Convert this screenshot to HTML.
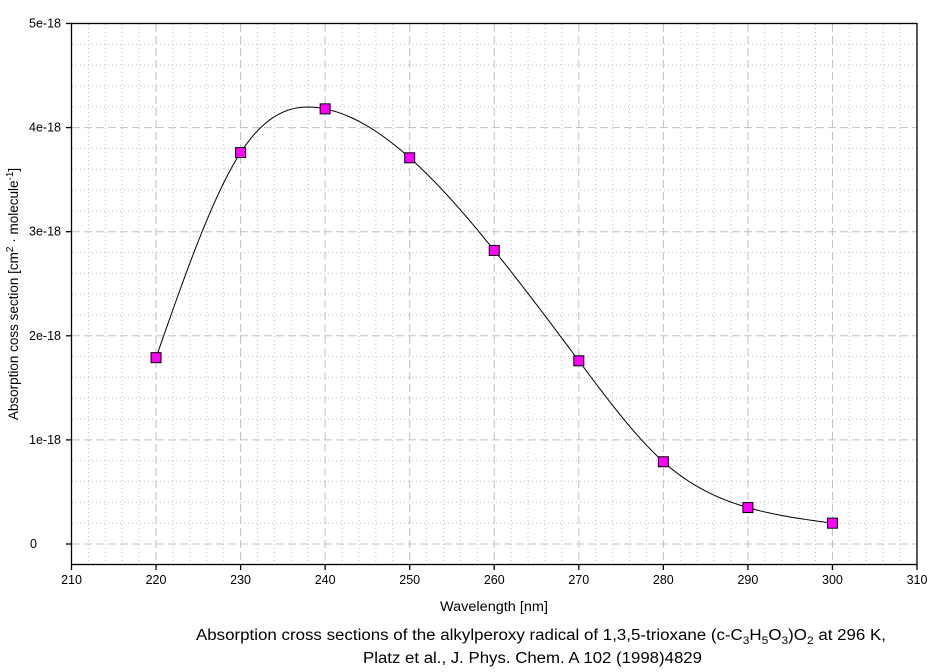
<!DOCTYPE html>
<html><head><meta charset="utf-8"><style>
body{margin:0;background:#fff;}
svg text{font-family:"Liberation Sans",Arial,sans-serif;fill:#000;}
</style></head><body>
<svg id="s" width="940" height="667" xmlns="http://www.w3.org/2000/svg">
<g id="grid"></g>
<rect x="71.5" y="23.5" width="845.5" height="541" fill="none" stroke="#000" stroke-width="1.3"/>
<g id="ticks" stroke="#000" stroke-width="1.3"></g>
<g id="labels" font-size="12.5"></g>
<path id="curve" fill="none" stroke="#000" stroke-width="1"/>
<g id="pts"></g>
<text x="494" y="611" font-size="13.5" text-anchor="middle" textLength="108" lengthAdjust="spacingAndGlyphs">Wavelength [nm]</text>
<text transform="translate(18,294) rotate(-90)" font-size="13.5" text-anchor="middle">Absorption coss section [cm<tspan dy="-5" font-size="10">2</tspan><tspan dy="5"> · molecule</tspan><tspan dy="-5" font-size="10">-1</tspan><tspan dy="5">]</tspan></text>
<text x="196" y="640" font-size="15.5" textLength="690" lengthAdjust="spacingAndGlyphs">Absorption cross sections of the alkylperoxy radical of 1,3,5-trioxane (c-C<tspan dy="4" font-size="11">3</tspan><tspan dy="-4">H</tspan><tspan dy="4" font-size="11">5</tspan><tspan dy="-4">O</tspan><tspan dy="4" font-size="11">3</tspan><tspan dy="-4">)O</tspan><tspan dy="4" font-size="11">2</tspan><tspan dy="-4"> at 296 K,</tspan></text>
<text x="363" y="663" font-size="15.5" textLength="339" lengthAdjust="spacingAndGlyphs">Platz et al., J. Phys. Chem. A 102 (1998)4829</text>
</svg>
<script>
var NS="http://www.w3.org/2000/svg";
function X(v){return 71.5+(v-210)*8.455;}
function Y(v){return 544-104.1*v;}
function el(p,t,a,txt){var e=document.createElementNS(NS,t);for(var k in a)e.setAttribute(k,a[k]);if(txt!=null)e.textContent=txt;document.getElementById(p).appendChild(e);return e;}
for(var x=212;x<310;x+=2){if(x%10==0)continue;el("grid","line",{x1:X(x),x2:X(x),y1:24,y2:564,stroke:"#c0c0c0","stroke-dasharray":"1,3"});}
for(var i=-1;i<25;i++){if(i%5==0)continue;var v=i*0.2;el("grid","line",{x1:72,x2:917,y1:Y(v),y2:Y(v),stroke:"#c0c0c0","stroke-dasharray":"1,3"});}
for(var x=220;x<310;x+=10){el("grid","line",{x1:X(x),x2:X(x),y1:24,y2:564,stroke:"#c0c0c0","stroke-dasharray":"8,4"});}
for(var v=0;v<5;v++){el("grid","line",{x1:72,x2:917,y1:Y(v),y2:Y(v),stroke:"#c0c0c0","stroke-dasharray":"8,4"});}
for(var x=210;x<=310;x+=10){el("ticks","line",{x1:X(x),x2:X(x),y1:564.5,y2:570});el("labels","text",{x:X(x),y:584,"text-anchor":"middle"},""+x);}
var yl=["0","1e-18","2e-18","3e-18","4e-18","5e-18"];
for(var v=0;v<=5;v++){el("ticks","line",{x1:66,x2:71.5,y1:Y(v),y2:Y(v)});el("labels","text",{x:v==0?37:61,y:Y(v)+4,"text-anchor":"end"},yl[v]);}
var xs=[220,230,240,250,260,270,280,290,300],ys=[1.79,3.76,4.18,3.71,2.82,1.76,0.79,0.35,0.20];
var n=xs.length,h=[],al=[],l=[1],mu=[0],z=[0],c=new Array(n).fill(0),b=[],d=[];
for(var i=0;i<n-1;i++)h[i]=xs[i+1]-xs[i];
for(var i=1;i<n-1;i++)al[i]=3/h[i]*(ys[i+1]-ys[i])-3/h[i-1]*(ys[i]-ys[i-1]);
for(var i=1;i<n-1;i++){l[i]=2*(xs[i+1]-xs[i-1])-h[i-1]*mu[i-1];mu[i]=h[i]/l[i];z[i]=(al[i]-h[i-1]*z[i-1])/l[i];}
l[n-1]=1;z[n-1]=0;
for(var j=n-2;j>=0;j--){c[j]=z[j]-mu[j]*c[j+1];b[j]=(ys[j+1]-ys[j])/h[j]-h[j]*(c[j+1]+2*c[j])/3;d[j]=(c[j+1]-c[j])/(3*h[j]);}
var p="M"+X(xs[0])+","+Y(ys[0]);
for(var j=0;j<n-1;j++)for(var t=0.5;t<=h[j];t+=0.5){var v=ys[j]+b[j]*t+c[j]*t*t+d[j]*t*t*t;p+="L"+X(xs[j]+t).toFixed(2)+","+Y(v).toFixed(2);}
document.getElementById("curve").setAttribute("d",p);
for(var i=0;i<n;i++)el("pts","rect",{x:X(xs[i])-5,y:Y(ys[i])-5,width:10,height:10,fill:"#ff00ff",stroke:"#000","stroke-width":1});
</script>
</body></html>
